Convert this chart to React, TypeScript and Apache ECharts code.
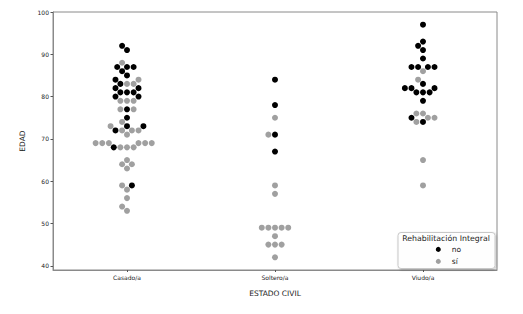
import { useEffect, useRef } from "react";
import * as echarts from "echarts";

const categories = ["Casado/a", "Soltero/a", "Viudo/a"];
const yTicks = [40, 50, 60, 70, 80, 90, 100];
const hueLevels = ["no", "sí"];
const hueColors = ["#000000", "#a0a0a0"];

const casadoEdad = [
  53, 54, 56, 58, 59, 59, 63, 64, 64, 65,
  68, 68, 68, 68, 69, 69, 69, 69, 69, 69,
  71, 72, 72, 72, 72, 73, 73, 73, 74, 75, 77, 77, 77, 79, 79, 79,
  80, 80, 81, 81, 81, 82, 82, 83, 83, 83, 84, 84,
  85, 86, 87, 87, 87, 88, 91, 92,
];
const casadoRehab = [
  "sí", "sí", "sí", "sí", "sí", "no", "sí", "sí", "sí", "sí",
  "sí", "sí", "sí", "no", "sí", "sí", "sí", "sí", "sí", "sí",
  "sí", "sí", "sí", "no", "sí", "no", "sí", "no", "sí", "no", "no", "sí", "sí", "sí", "sí", "sí",
  "no", "no", "no", "no", "no", "no", "no", "sí", "no", "sí", "no", "sí",
  "no", "no", "no", "no", "no", "sí", "no", "no",
];

const solteroEdad = [42, 45, 45, 45, 47, 49, 49, 49, 49, 49, 57, 59, 67, 71, 71, 75, 78, 84];
const solteroRehab = [
  "sí", "sí", "sí", "sí", "sí", "sí", "sí", "sí", "sí", "sí", "sí", "sí",
  "no", "no", "sí", "sí", "no", "no",
];

const viudoEdad = [
  59, 65, 74, 74, 75, 75, 75, 76, 76, 79, 81, 81, 81, 82, 82, 82,
  83, 84, 86, 87, 87, 87, 87, 89, 91, 92, 93, 97,
];
const viudoRehab = [
  "sí", "sí", "no", "sí", "sí", "no", "sí", "sí", "sí", "no", "no", "no", "no", "no", "no", "no",
  "no", "sí", "sí", "no", "no", "no", "no", "no", "no", "no", "no", "no",
];

const groups = [
  { edad: casadoEdad, rehab: casadoRehab },
  { edad: solteroEdad, rehab: solteroRehab },
  { edad: viudoEdad, rehab: viudoRehab },
];

// layout
const W = 523;
const H = 314;
const GRID = { left: 53, top: 12, width: 444, height: 258 };
const Y_MIN = 39;
const Y_MAX = 100;
const DOT = 6;
const R = 3.15;
const TEXT = "#1a1a1a";
const SPINE = "#8a8a8a";

// seaborn-like beeswarm (pixel offsets)
function swarmOffsets(values: number[], r: number, pxPerUnit: number): number[] {
  const order = values.map((_, i) => i).sort((a, b) => values[a] - values[b] || a - b);
  const placed: { x: number; y: number }[] = [];
  const out: number[] = new Array(values.length).fill(0);
  const sep2 = 4 * r * r;
  for (const idx of order) {
    const y = values[idx] * pxPerUnit;
    const neighbors: { x: number; y: number }[] = [];
    for (let k = placed.length - 1; k >= 0; k--) {
      if (y - placed[k].y < 2 * r) neighbors.push(placed[k]);
      else break;
    }
    neighbors.reverse();
    const cands: number[] = [0];
    let leftFirst = true;
    for (const nb of neighbors) {
      const dy = y - nb.y;
      const dx = Math.sqrt(Math.max(sep2 - dy * dy, 0)) * 1.05;
      const cl = nb.x - dx;
      const cr = nb.x + dx;
      if (leftFirst) cands.push(cl, cr);
      else cands.push(cr, cl);
      leftFirst = !leftFirst;
    }
    const sorted = cands
      .map((x, k) => ({ x, k }))
      .sort((a, b) => Math.abs(a.x) - Math.abs(b.x) || a.k - b.k);
    let chosen = sorted[0].x;
    for (const c of sorted) {
      const ok = neighbors.every(
        (nb) => (nb.x - c.x) * (nb.x - c.x) + (nb.y - y) * (nb.y - y) >= sep2 - 1e-9
      );
      if (ok) {
        chosen = c.x;
        break;
      }
    }
    placed.push({ x: chosen, y });
    out[idx] = chosen;
  }
  return out;
}

function buildSeries() {
  const pxPerUnitY = GRID.height / (Y_MAX - Y_MIN);
  const pxPerCat = GRID.width / categories.length;
  const byHue: Record<string, number[][]> = {};
  hueLevels.forEach((h) => (byHue[h] = []));
  groups.forEach((g, ci) => {
    const offs = swarmOffsets(g.edad, R, pxPerUnitY);
    g.edad.forEach((v, i) => {
      byHue[g.rehab[i]].push([ci + offs[i] / pxPerCat, v]);
    });
  });
  return hueLevels.map((h, k) => ({
    type: "scatter",
    name: h,
    xAxisIndex: 1,
    yAxisIndex: 0,
    symbol: "circle",
    symbolSize: DOT,
    itemStyle: { color: hueColors[k], opacity: 1 },
    data: byHue[h],
  }));
}

export default function App() {
  const ref = useRef<HTMLDivElement>(null);
  useEffect(() => {
    if (!ref.current) return;
    const chart = echarts.init(ref.current, null, { renderer: "svg" });
    const font = "DejaVu Sans";
    chart.setOption({
      animation: false,
      backgroundColor: "#ffffff",
      textStyle: { fontFamily: font, color: TEXT },
      grid: {
        left: GRID.left,
        top: GRID.top,
        width: GRID.width,
        height: GRID.height,
        show: true,
        borderColor: SPINE,
        borderWidth: 1,
        backgroundColor: "transparent",
      },
      legend: {
        data: hueLevels,
        orient: "vertical",
        left: 435.8,
        top: 245.4,
        itemWidth: 5,
        itemHeight: 5,
        itemGap: 4,
        icon: "circle",
        padding: 0,
        z: 20,
        textStyle: { fontFamily: font, fontSize: 7.5, color: TEXT, padding: [0, 0, 0, 6] },
      },
      xAxis: [
        {
          type: "category",
          data: categories,
          boundaryGap: true,
          position: "bottom",
          name: "ESTADO CIVIL",
          nameLocation: "middle",
          nameGap: 19,
          nameTextStyle: { fontFamily: font, fontSize: 7.5, color: TEXT },
          axisLine: { show: true, onZero: false, lineStyle: { color: SPINE, width: 1 } },
          axisTick: { show: true, alignWithLabel: true, length: 2, lineStyle: { color: "#555" } },
          axisLabel: { fontFamily: font, fontSize: 6, color: TEXT, margin: 4 },
          splitLine: { show: false },
        },
        {
          type: "value",
          min: -0.5,
          max: 2.5,
          show: false,
          axisLine: { show: false, onZero: false },
          splitLine: { show: false },
        },
      ],
      yAxis: {
        type: "value",
        min: Y_MIN,
        max: Y_MAX,
        position: "left",
        name: "EDAD",
        nameLocation: "middle",
        nameRotate: 90,
        nameGap: 23,
        nameTextStyle: { fontFamily: font, fontSize: 7.5, color: TEXT },
        axisLine: { show: true, onZero: false, lineStyle: { color: SPINE, width: 1 } },
        axisTick: { show: true, length: 2.5, lineStyle: { color: "#555" }, customValues: yTicks },
        axisLabel: { fontFamily: font, fontSize: 6, color: TEXT, margin: 4, customValues: yTicks },
        splitLine: { show: false },
      },
      graphic: [
        {
          type: "rect",
          z: 5,
          shape: { x: 398, y: 232.5, width: 97, height: 36, r: 3 },
          style: {
            fill: "rgba(255,255,255,0.95)",
            stroke: "#c8c8c8",
            lineWidth: 1,
            shadowBlur: 2,
            shadowOffsetX: 1,
            shadowOffsetY: 1,
            shadowColor: "rgba(0,0,0,0.25)",
          },
        },
        {
          type: "text",
          z: 6,
          x: 446,
          y: 238.5,
          style: {
            text: "Rehabilitación Integral",
            fontFamily: font,
            fontSize: 7.8,
            fill: TEXT,
            align: "center",
            verticalAlign: "middle",
          },
        },
      ],
      series: buildSeries(),
    });
    return () => chart.dispose();
  }, []);
  return (
    <div
      ref={ref}
      style={{ position: "absolute", left: 0, top: 0, width: W, height: H, background: "#fff" }}
    />
  );
}
